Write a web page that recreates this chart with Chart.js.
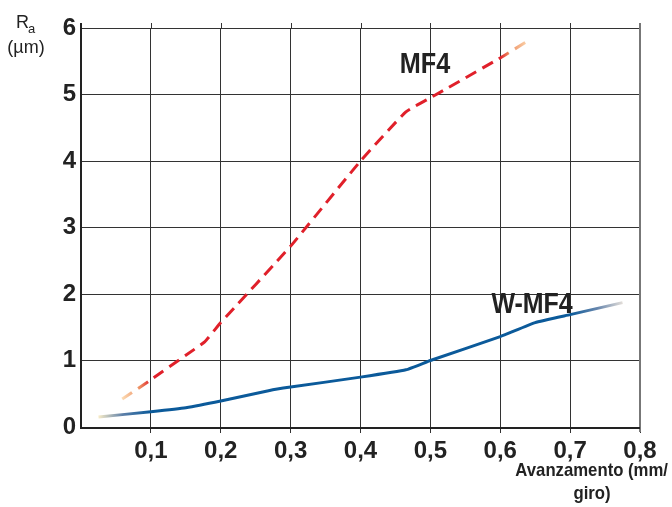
<!DOCTYPE html>
<html lang="es">
<head>
  <meta charset="UTF-8">
  <title>Ra vs avanzamento</title>
  <script src="https://cdn.jsdelivr.net/npm/chart.js"></script>
  <style>
    html, body { margin: 0; padding: 0; background: #fff; }
    #wrap { width: 672px; height: 507px; }
  </style>
</head>
<body>
  <div id="wrap"><canvas id="raChart" width="672" height="507"></canvas></div>

  <script>
    // MF4 (red, dashed)
    const mf4X = [0.059, 0.1, 0.15, 0.177, 0.2, 0.3, 0.4, 0.465, 0.5, 0.6, 0.64];
    const mf4Y = [0.42, 0.71, 1.08, 1.28, 1.57, 2.72, 4.0, 4.74, 4.95, 5.55, 5.81];
    // W-MF4 (blue, solid)
    const wX = [0.025, 0.1, 0.15, 0.2, 0.27, 0.3, 0.4, 0.465, 0.5, 0.6, 0.65, 0.7, 0.775];
    const wY = [0.15, 0.23, 0.29, 0.39, 0.55, 0.6, 0.75, 0.86, 1.0, 1.36, 1.57, 1.69, 1.87];
    const xTicks = [0.1, 0.2, 0.3, 0.4, 0.5, 0.6, 0.7, 0.8];
    const yTicks = [0, 1, 2, 3, 4, 5, 6];

    const FONT = "'Liberation Sans', Arial, sans-serif";

    function toPoints(xs, ys) {
      return xs.map((x, i) => ({ x: x, y: ys[i] }));
    }

    // condensed text (the original uses a narrow bold face)
    function narrowText(c, text, x, y, align, sx) {
      c.save();
      c.translate(x, y);
      c.scale(sx, 1);
      c.textAlign = align;
      c.fillText(text, 0, 0);
      c.restore();
    }

    // gradient along x so the line ends fade out like in the original
    function fadeGradient(stops) {
      return function (ctx) {
        const chart = ctx.chart;
        if (!chart.chartArea) return stops[0][1];
        const xs = chart.scales.x;
        const x0 = xs.getPixelForValue(stops[0][0]);
        const x1 = xs.getPixelForValue(stops[stops.length - 1][0]);
        const g = chart.ctx.createLinearGradient(x0, 0, x1, 0);
        stops.forEach(s => {
          const t = (xs.getPixelForValue(s[0]) - x0) / (x1 - x0);
          g.addColorStop(Math.min(1, Math.max(0, t)), s[1]);
        });
        return g;
      };
    }

    const extras = {
      id: 'extras',
      afterDraw(chart) {
        const c = chart.ctx;
        const a = chart.chartArea;
        const xs = chart.scales.x;
        c.save();
        // vertical grid lines poke above the top line
        c.strokeStyle = '#333';
        c.lineWidth = 1;
        xTicks.forEach(v => {
          const px = Math.round(xs.getPixelForValue(v)) + 0.5;
          c.beginPath();
          c.moveTo(px, a.top - 5);
          c.lineTo(px, a.top);
          c.stroke();
        });
        // right border, grey and a bit heavier
        c.strokeStyle = '#777';
        c.lineWidth = 2;
        c.beginPath();
        c.moveTo(a.right, a.top - 5);
        c.lineTo(a.right, a.bottom + 5);
        c.stroke();
        // left axis
        c.strokeStyle = '#222';
        c.lineWidth = 2;
        c.beginPath();
        c.moveTo(a.left, a.top - 5);
        c.lineTo(a.left, a.bottom + 1);
        c.lineTo(a.right, a.bottom + 1);
        c.stroke();

        c.fillStyle = '#222';
        c.textBaseline = 'alphabetic';
        // series labels
        c.font = 'bold 29px ' + FONT;
        narrowText(c, 'MF4', 425, 73, 'center', 0.87);
        narrowText(c, 'W-MF4', 532, 313, 'center', 0.86);
        // y title
        c.font = '18px ' + FONT;
        c.textAlign = 'left';
        c.fillText('R', 16, 28);
        c.font = '13px ' + FONT;
        c.fillText('a', 28, 33);
        c.font = '18px ' + FONT;
        c.textAlign = 'center';
        c.fillText('(µm)', 26, 53);
        // x title
        c.font = 'bold 19px ' + FONT;
        narrowText(c, 'Avanzamento (mm/', 668, 476, 'right', 0.88);
        narrowText(c, 'giro)', 592, 499, 'center', 0.88);
        c.restore();
      }
    };

    new Chart(document.getElementById('raChart'), {
      type: 'line',
      data: {
        datasets: [
          {
            label: 'MF4',
            data: toPoints(mf4X, mf4Y),
            borderColor: fadeGradient([
              [0.059, '#fcdcb4'], [0.085, '#ec8a5e'], [0.1, '#e0202a'],
              [0.6, '#e0202a'], [0.612, '#ec8a5e'], [0.64, '#fcd6ae']
            ]),
            borderWidth: 3,
            borderDash: [12, 7],
            pointRadius: 0,
            tension: 0.12,
            fill: false
          },
          {
            label: 'W-MF4',
            data: toPoints(wX, wY),
            borderColor: fadeGradient([
              [0.025, '#f8ecc8'], [0.06, '#5d7fa8'], [0.1, '#0b5a9a'],
              [0.7, '#0b5a9a'], [0.74, '#6a88ae'], [0.775, '#e2ddd8']
            ]),
            borderWidth: 3,
            pointRadius: 0,
            tension: 0.12,
            fill: false
          }
        ]
      },
      options: {
        responsive: false,
        animation: false,
        layout: { padding: { top: 28, right: 32, left: 0, bottom: 0 } },
        plugins: {
          legend: { display: false },
          tooltip: { enabled: false }
        },
        scales: {
          x: {
            type: 'linear',
            min: 0,
            max: 0.8,
            afterFit(s) { s.height = 80; },
            afterBuildTicks(s) { s.ticks = xTicks.map(v => ({ value: v })); },
            border: { display: false },
            grid: { color: '#333', lineWidth: 1, tickLength: 6, drawTicks: true },
            ticks: {
              color: '#222',
              padding: 4,
              maxRotation: 0,
              font: { family: FONT, size: 24, weight: 'bold' },
              callback: v => String(v.toFixed(1)).replace('.', ',')
            }
          },
          y: {
            min: 0,
            max: 6,
            afterFit(s) { s.width = 81; },
            afterBuildTicks(s) { s.ticks = yTicks.map(v => ({ value: v })); },
            border: { display: false },
            grid: { color: '#333', lineWidth: 1, drawTicks: false },
            ticks: {
              color: '#222',
              padding: 5,
              font: { family: FONT, size: 24, weight: 'bold' },
              callback: v => String(v)
            }
          }
        }
      },
      plugins: [extras]
    });
  </script>
</body>
</html>
